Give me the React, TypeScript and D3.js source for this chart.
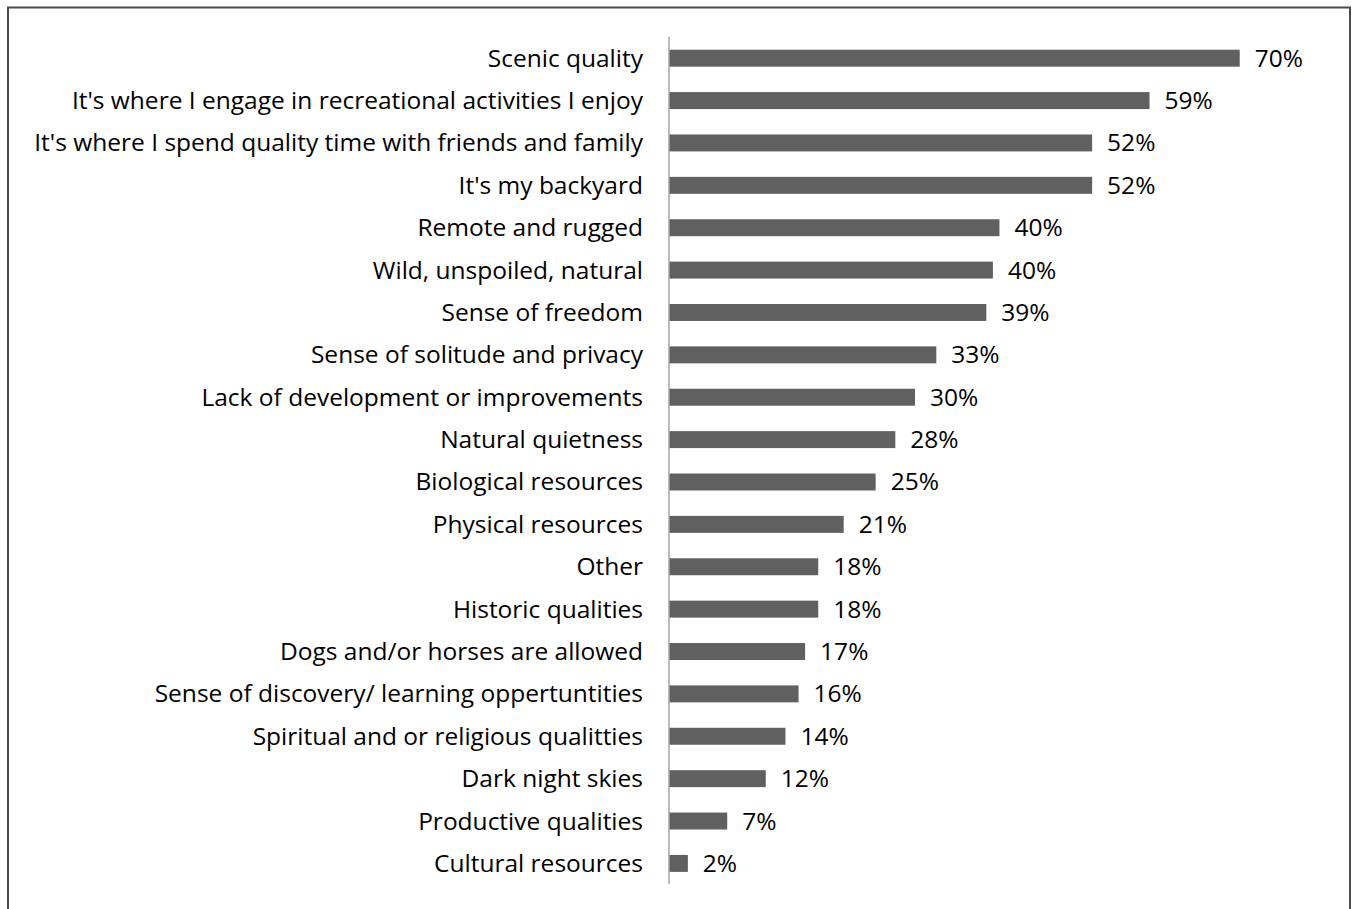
import React from "react";
import * as d3 from "d3";

const categories: string[] = [
  "Scenic quality",
  "It's where I engage in recreational activities I enjoy",
  "It's where I spend quality time with friends and family",
  "It's my backyard",
  "Remote and rugged",
  "Wild, unspoiled, natural",
  "Sense of freedom",
  "Sense of solitude and privacy",
  "Lack of development or improvements",
  "Natural quietness",
  "Biological resources",
  "Physical resources",
  "Other",
  "Historic qualities",
  "Dogs and/or horses are allowed",
  "Sense of discovery/ learning oppertuntities",
  "Spiritual and or religious qualitties",
  "Dark night skies",
  "Productive qualities",
  "Cultural resources",
];

const values: number[] = [
  69.6, 58.6, 51.6, 51.6, 40.3, 39.5, 38.7, 32.6, 30.0, 27.6, 25.2, 21.3, 18.2,
  18.2, 16.6, 15.8, 14.2, 11.8, 7.1, 2.3,
];

const W = 1353;
const H = 909;
const FONT = "'Open Sans', 'Noto Sans', sans-serif";

export default function App() {
  const x = d3.scaleLinear().domain([0, 80]).range([669, 1325]);
  const y = d3
    .scaleBand<string>()
    .domain(categories)
    .range([37, 884.6])
    .paddingInner(0.6)
    .paddingOuter(0.3);
  const bw = y.bandwidth();
  const fmt = (v: number) => `${Math.round(v)}%`;

  return (
    <svg
      width={W}
      height={H}
      style={{ position: "absolute", left: 0, top: 0, background: "#fff" }}
      fontFamily={FONT}
    >
      <rect x={0} y={0} width={W} height={H} fill="#fff" />
      <path
        d={`M8,${H + 5} L8,7.5 L1350,7.5 L1350,${H + 5}`}
        fill="none"
        stroke="#4a4a4a"
        strokeWidth={2}
      />
      {categories.map((c, i) => {
        const yc = (y(c) ?? 0) + bw / 2;
        return (
          <g key={c}>
            <rect
              x={x(0)}
              y={y(c)}
              width={x(values[i]) - x(0)}
              height={bw}
              fill="#606060"
            />
            <text
              x={643}
              y={yc + 8.5}
              textAnchor="end"
              fontSize={24.5}
              fill="#000"
            >
              {c}
            </text>
            <text
              x={x(values[i]) + 15}
              y={yc + 8.5}
              textAnchor="start"
              fontSize={24.5}
              fill="#000"
            >
              {fmt(values[i])}
            </text>
          </g>
        );
      })}
      <line
        x1={x(0)}
        x2={x(0)}
        y1={37}
        y2={884}
        stroke="#a6a6a6"
        strokeWidth={1.5}
      />
    </svg>
  );
}
